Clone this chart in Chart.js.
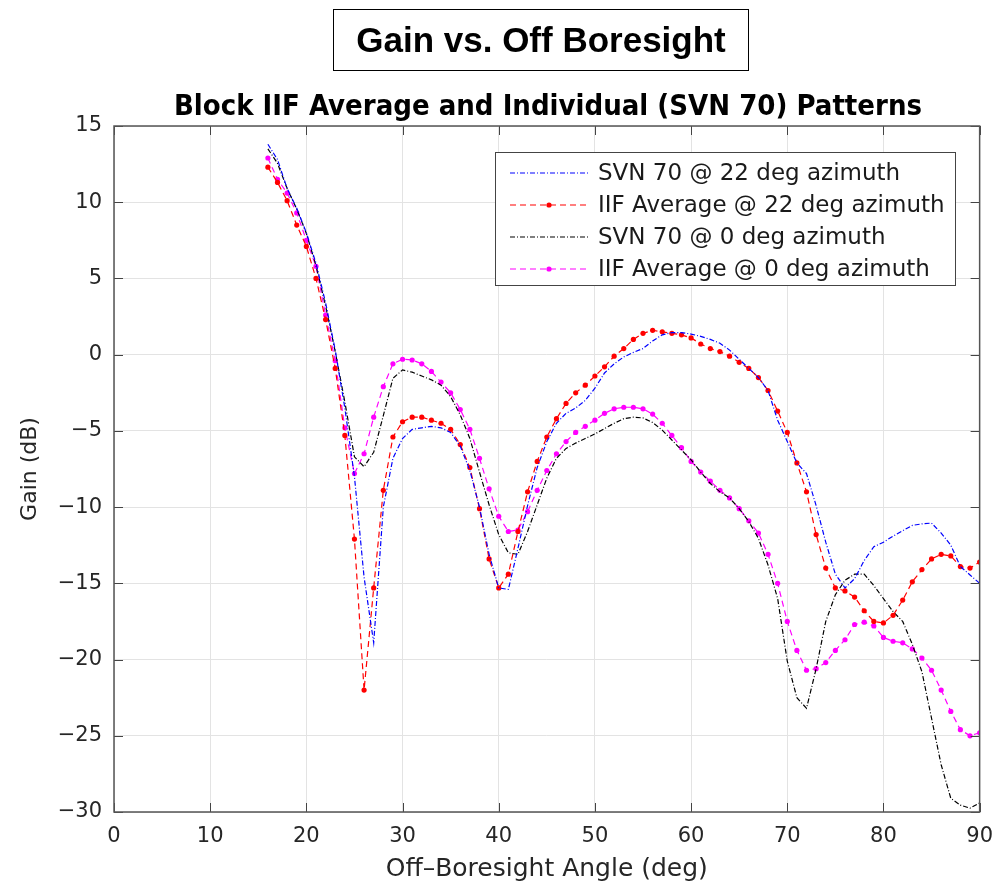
<!DOCTYPE html>
<html>
<head>
<meta charset="utf-8">
<title>Gain vs. Off Boresight</title>
<script src="https://cdn.jsdelivr.net/npm/chart.js@4.4.0/dist/chart.umd.min.js"></script>
<style>
  html, body { margin: 0; padding: 0; background: #fff; }
  #wrap { position: relative; width: 1005px; height: 892px; }
  #gainChart { position: absolute; left: 0; top: 0; }
  #mainTitle {
    position: absolute; left: 333px; top: 9px; width: 414px; height: 60px;
    border: 1.5px solid #000; box-sizing: content-box;
    font: bold 35px "Liberation Sans", Arial, sans-serif; color: #000;
    text-align: center; line-height: 60px;
  }
  #subTitle {
    position: absolute; left: 114px; width: 868px; top: 88px;
    font: bold 29px "DejaVu Sans Condensed", "DejaVu Sans", sans-serif; color: #000;
    text-align: center; white-space: nowrap; line-height: 34px;
  }
</style>
</head>
<body>
<div id="wrap">
  <canvas id="gainChart" width="1005" height="892"></canvas>
  <div id="mainTitle">Gain vs. Off Boresight</div>
  <div id="subTitle">Block IIF Average and Individual (SVN 70) Patterns</div>
</div>
<script>
// off-boresight angle, deg
const angles = [16, 17, 18, 19, 20, 21, 22, 23, 24, 25, 26, 27, 28, 29, 30, 31, 32, 33, 34, 35,
  36, 37, 38, 39, 40, 41, 42, 43, 44, 45, 46, 47, 48, 49, 50, 51, 52, 53, 54, 55,
  56, 57, 58, 59, 60, 61, 62, 63, 64, 65, 66, 67, 68, 69, 70, 71, 72, 73, 74, 75,
  76, 77, 78, 79, 80, 81, 82, 83, 84, 85, 86, 87, 88, 89, 90];

// gain, dB
const svn70Az22 = [13.8, 12.8, 10.9, 9.6, 8.0, 6.0, 3.4, 0.3, -3.5, -8.0, -14.6, -18.9, -10.0, -6.8, -5.5, -4.9, -4.8, -4.7, -4.8, -5.1,
  -6.0, -7.6, -10.0, -13.1, -15.3, -15.4, -12.7, -9.9, -7.4, -5.7, -4.5, -3.85, -3.5, -3.0, -2.2, -1.2, -0.6, -0.15, 0.15, 0.4,
  0.9, 1.3, 1.45, 1.45, 1.35, 1.2, 1.0, 0.75, 0.3, -0.3, -0.9, -1.5, -2.35, -4.3, -5.7, -7.1, -7.8, -9.9, -12.3, -14.4,
  -15.3, -14.7, -13.5, -12.6, -12.3, -11.9, -11.55, -11.2, -11.1, -11.05, -11.7, -12.5, -13.9, -14.45, -15.0];

const iifAvgAz22 = [12.3, 11.3, 10.1, 8.5, 7.1, 5.0, 2.3, -0.9, -5.3, -12.1, -22.0, -15.3, -8.9, -5.4, -4.4, -4.1, -4.1, -4.3, -4.5, -4.9,
  -5.9, -7.4, -10.1, -13.4, -15.3, -14.4, -11.6, -9.0, -7.0, -5.4, -4.2, -3.2, -2.5, -2.0, -1.4, -0.8, -0.1, 0.4, 1.0, 1.4,
  1.6, 1.5, 1.4, 1.3, 1.1, 0.7, 0.4, 0.2, -0.1, -0.5, -0.9, -1.5, -2.35, -3.7, -5.1, -7.1, -9.0, -11.8, -14.0, -15.3,
  -15.5, -15.9, -16.8, -17.5, -17.6, -17.1, -16.1, -14.9, -14.1, -13.4, -13.1, -13.2, -13.9, -14.0, -13.6];

const svn70Az0 = [13.5, 12.55, 10.9, 9.55, 7.95, 5.85, 3.2, 0.2, -3.1, -6.7, -7.35, -6.4, -4.0, -1.55, -1.0, -1.15, -1.4, -1.65, -2.0, -2.75,
  -3.95, -5.5, -7.7, -9.85, -11.8, -13.0, -13.1, -11.6, -9.85, -8.1, -6.8, -6.15, -5.8, -5.5, -5.2, -4.85, -4.5, -4.2, -4.1, -4.15,
  -4.45, -4.95, -5.6, -6.25, -6.9, -7.7, -8.45, -9.0, -9.4, -10.1, -10.95, -12.05, -13.8, -16.0, -20.1, -22.5, -23.2, -20.6, -17.5, -15.75,
  -14.8, -14.4, -14.4, -15.15, -16.0, -16.85, -17.5, -19.0, -20.8, -23.85, -26.9, -29.1, -29.55, -29.75, -29.4];

const iifAvgAz0 = [12.9, 11.5, 10.6, 9.3, 7.5, 5.8, 2.6, -0.4, -4.8, -7.8, -6.5, -4.1, -2.1, -0.6, -0.3, -0.35, -0.6, -1.1, -1.8, -2.5,
  -3.6, -4.9, -6.8, -8.8, -10.6, -11.6, -11.5, -10.3, -8.9, -7.6, -6.5, -5.7, -5.1, -4.7, -4.3, -3.85, -3.55, -3.45, -3.45, -3.55,
  -3.9, -4.5, -5.3, -6.1, -7.0, -7.7, -8.3, -8.9, -9.4, -10.1, -10.9, -11.7, -13.1, -15.0, -17.5, -19.4, -20.7, -20.6, -20.2, -19.4,
  -18.7, -17.7, -17.55, -17.8, -18.55, -18.8, -18.9, -19.3, -19.9, -20.7, -22.0, -23.4, -24.6, -25.0, -24.8];

const seriesLabels = ['SVN 70 @ 22 deg azimuth', 'IIF Average @ 22 deg azimuth', 'SVN 70 @ 0 deg azimuth', 'IIF Average @ 0 deg azimuth'];

const FONT = '"DejaVu Sans", sans-serif';
const DASH_DOT = [5, 2, 1, 2];
const DASHED = [6, 4];

function toPoints(ys) {
  return angles.map((x, i) => ({ x, y: ys[i] }));
}

function makeSeries(label, ys, color, dash, markers) {
  return {
    label,
    data: toPoints(ys),
    borderColor: color,
    backgroundColor: color,
    borderWidth: 1.2,
    borderDash: dash,
    pointRadius: markers ? 2.6 : 0,
    pointBorderWidth: 0,
    pointBackgroundColor: color,
    tension: 0,
    fill: false,
    markers
  };
}

// inward tick marks and full box around the axes
const axesBox = {
  id: 'axesBox',
  afterDatasetsDraw(chart) {
    const { ctx, chartArea: a, scales: { x, y } } = chart;
    ctx.save();
    ctx.strokeStyle = '#444';
    ctx.lineWidth = 1;
    ctx.setLineDash([]);
    ctx.beginPath();
    x.ticks.forEach(t => {
      const px = Math.round(x.getPixelForValue(t.value)) + 0.5;
      ctx.moveTo(px, a.bottom); ctx.lineTo(px, a.bottom - 9);
      ctx.moveTo(px, a.top); ctx.lineTo(px, a.top + 9);
    });
    y.ticks.forEach(t => {
      const py = Math.round(y.getPixelForValue(t.value)) + 0.5;
      ctx.moveTo(a.left, py); ctx.lineTo(a.left + 9, py);
      ctx.moveTo(a.right, py); ctx.lineTo(a.right - 9, py);
    });
    ctx.stroke();
    ctx.strokeStyle = '#555';
    ctx.lineWidth = 1.5;
    ctx.strokeRect(a.left, a.top, a.right - a.left, a.bottom - a.top);
    ctx.restore();
  }
};

// boxed legend in the upper right of the plot
const boxLegend = {
  id: 'boxLegend',
  afterDraw(chart) {
    const ctx = chart.ctx;
    const bx = 495, by = 152, bw = 460, bh = 133;
    ctx.save();
    ctx.fillStyle = '#fff';
    ctx.fillRect(bx, by, bw, bh);
    ctx.strokeStyle = '#444';
    ctx.lineWidth = 1;
    ctx.strokeRect(bx + 0.5, by + 0.5, bw, bh);
    ctx.font = '23px ' + FONT;
    ctx.textBaseline = 'middle';
    chart.data.datasets.forEach((ds, i) => {
      const ry = by + 21 + i * 32;
      ctx.strokeStyle = ds.borderColor;
      ctx.lineWidth = 1.2;
      ctx.setLineDash(ds.borderDash);
      ctx.beginPath();
      ctx.moveTo(510, ry); ctx.lineTo(588, ry);
      ctx.stroke();
      if (ds.markers) {
        ctx.fillStyle = ds.borderColor;
        ctx.beginPath();
        ctx.arc(549, ry, 2.6, 0, Math.PI * 2);
        ctx.fill();
      }
      ctx.fillStyle = '#1a1a1a';
      ctx.fillText(ds.label, 598, ry + 1);
    });
    ctx.restore();
  }
};

new Chart(document.getElementById('gainChart'), {
  type: 'line',
  data: {
    datasets: [
      makeSeries(seriesLabels[0], svn70Az22, '#0000ff', DASH_DOT, false),
      makeSeries(seriesLabels[1], iifAvgAz22, '#ff0000', DASHED, true),
      makeSeries(seriesLabels[2], svn70Az0, '#000000', DASH_DOT, false),
      makeSeries(seriesLabels[3], iifAvgAz0, '#ff00ff', DASHED, true)
    ]
  },
  options: {
    responsive: false,
    animation: false,
    devicePixelRatio: 1,
    layout: { padding: { left: 0, top: 126, right: 23, bottom: 0 } },
    plugins: {
      legend: { display: false },
      title: { display: false },
      tooltip: { enabled: false }
    },
    scales: {
      x: {
        type: 'linear',
        min: 0,
        max: 90,
        afterFit(scale) { scale.height = 80; },
        ticks: { stepSize: 10, padding: 12, color: '#262626', font: { family: FONT, size: 21 } },
        grid: { color: '#e3e3e3', drawTicks: false },
        border: { display: false },
        title: {
          display: true,
          text: 'Off\u2013Boresight Angle (deg)',
          color: '#262626',
          font: { family: FONT, size: 25 },
          padding: { top: 0, bottom: 8 }
        }
      },
      y: {
        min: -30,
        max: 15,
        afterFit(scale) { scale.width = 114; },
        ticks: {
          stepSize: 5,
          padding: 12,
          color: '#262626',
          font: { family: FONT, size: 21 },
          callback: v => (v < 0 ? '\u2212' + Math.abs(v) : String(v))
        },
        grid: { color: '#e3e3e3', drawTicks: false },
        border: { display: false },
        title: {
          display: true,
          text: 'Gain (dB)',
          color: '#262626',
          font: { family: FONT, size: 22 },
          padding: { top: 17, bottom: 0 }
        }
      }
    }
  },
  plugins: [axesBox, boxLegend]
});
</script>
</body>
</html>
